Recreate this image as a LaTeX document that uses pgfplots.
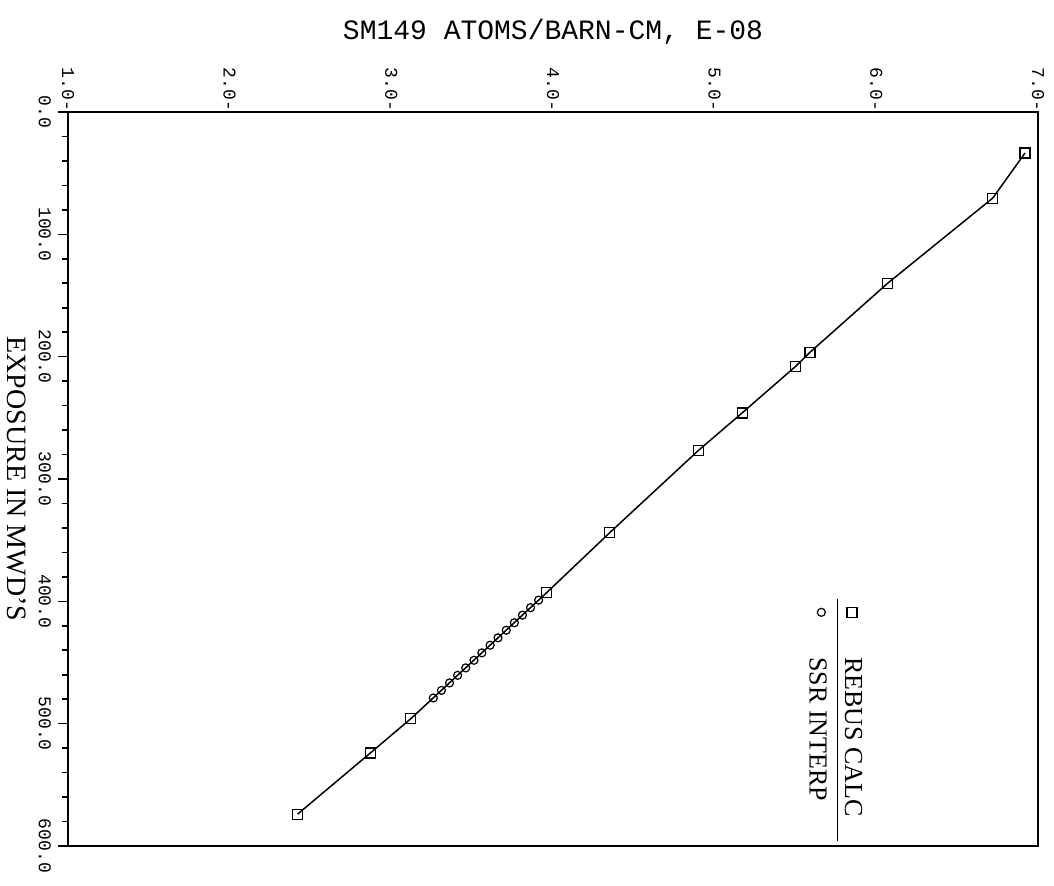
\documentclass[border=0pt]{standalone}
\usepackage{pgfplots}
\pgfplotsset{compat=1.18}
\usepackage{fontspec}
\setmainfont{Liberation Serif}
\newfontfamily\monofont{Liberation Mono}
\begin{document}
\begin{tikzpicture}
\path[use as bounding box] (-34pt,-20pt) rectangle (493pt,423pt);
\begin{axis}[
  scale only axis, width=485pt, height=367pt,
  at={(0,0)}, anchor=south west,
  xmin=1, xmax=7, ymin=0, ymax=600, y dir=reverse,
  axis line style={line width=1pt},
  xtick={1,2,3,4,5,6,7},
  xticklabels={1.0-,2.0-,3.0-,4.0-,5.0-,6.0-,7.0-},
  xticklabel pos=upper,
  xtick style={draw=none},
  xticklabel style={yshift=-8pt, rotate=-90, anchor=east, font=\monofont\fontsize{9}{9}\selectfont},
  ytick={0,100,200,300,400,500,600},
  yticklabels={0.0,100.0,200.0,300.0,400.0,500.0,600.0},
  minor y tick num=4,
  ytick pos=left,
  tick align=outside,
  major tick length=5pt, minor tick length=3pt,
  tick style={line width=0.8pt, black},
  yticklabel style={rotate=-90, anchor=north, font=\monofont\fontsize{9}{9}\selectfont},
  clip=false,
]
% REBUS CALC (squares with line)
\addplot[black, line width=0.75pt, mark=square, mark size=2.5pt, mark options={line width=0.6pt}] coordinates {
(6.92,33.5) (6.72,70.4) (6.07,140) (5.59,196.4) (5.50,208) (5.17,246)
(4.90,276.6) (4.35,344) (3.96,393) (3.12,496) (2.87,524) (2.42,574)
};
% SSR INTERP (circles)
\addplot[black, only marks, mark=o, mark size=2pt, mark options={line width=0.6pt}] coordinates {
(3.911,399) (3.861,405.2) (3.811,411.3) (3.761,417.5) (3.711,423.6) (3.660,429.8)
(3.611,435.9) (3.560,442.1) (3.511,448.2) (3.460,454.4) (3.410,460.5) (3.360,466.7)
(3.310,472.8) (3.260,479)
};
% legend
\addplot[black, only marks, mark=square, mark size=2.5pt, mark options={line width=0.6pt}, forget plot] coordinates {(5.85,409)};
\addplot[black, only marks, mark=o, mark size=2pt, mark options={line width=0.6pt}, forget plot] coordinates {(5.66,409)};
\addplot[black, line width=0.6pt, forget plot] coordinates {(5.76,398) (5.76,596)};
\node[rotate=-90, anchor=west, font=\fontsize{13}{13}\selectfont] at (axis cs:5.86,440) {REBUS CALC};
\node[rotate=-90, anchor=west, font=\fontsize{13}{13}\selectfont] at (axis cs:5.64,440) {SSR INTERP};
\end{axis}
\node[font=\monofont\fontsize{14}{14}\selectfont] at ([yshift=40pt]current axis.north) {SM149 ATOMS/BARN-CM, E-08};
\node[rotate=-90, font=\fontsize{14}{14}\selectfont] at ([xshift=-25.5pt]current axis.west) {EXPOSURE IN MWD'S};
\end{tikzpicture}
\end{document}
